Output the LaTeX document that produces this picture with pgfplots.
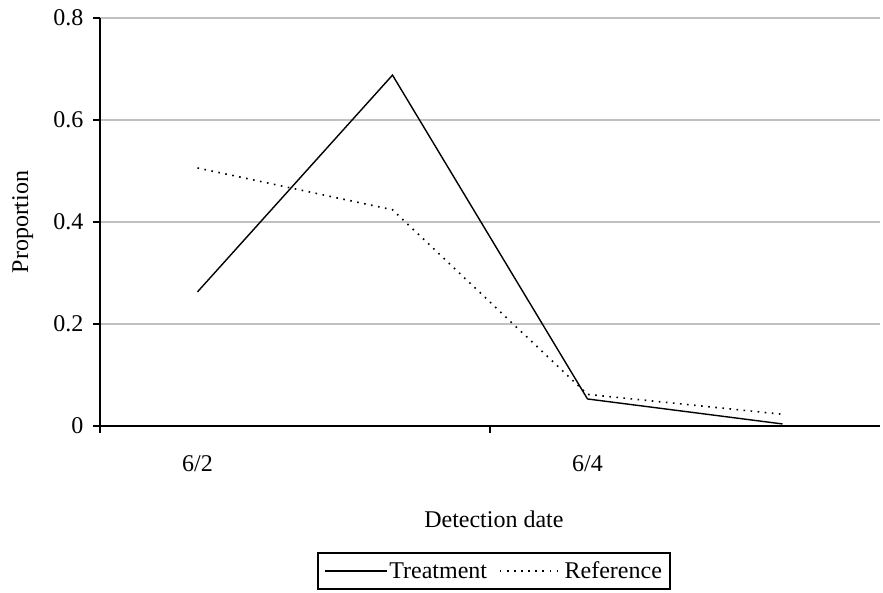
\documentclass[border=0pt]{standalone}
\usepackage{fontspec}
\setmainfont{Liberation Serif}
\usepackage{pgfplots}
\pgfplotsset{compat=1.18}
\definecolor{gridgray}{RGB}{192,192,192}
\newcommand{\chartfont}{\fontsize{24}{28}\selectfont}
\begin{document}
\begin{tikzpicture}
\begin{axis}[
  scale only axis,
  width=780pt, height=408pt,
  xmin=-0.5, xmax=3.5,
  ymin=0, ymax=0.8,
  axis x line*=bottom,
  axis y line*=left,
  axis line style={line width=1.5pt, black, -},
  xtick={-0.5,1.5},
  xticklabels={},
  extra x ticks={0,2},
  extra x tick labels={6/2,6/4},
  extra x tick style={major tick length=0pt, grid=none},
  ytick={0,0.2,0.4,0.6,0.8},
  yticklabels={0,0.2,0.4,0.6,0.8},
  tick align=outside,
  major tick length=7pt,
  tick style={line width=1.5pt, black},
  ymajorgrids,
  grid style={line width=1.5pt, gridgray},
  every tick label/.append style={font=\chartfont},
  /pgf/number format/assume math mode=true,
  xticklabel style={yshift=-26pt},
  yticklabel style={xshift=-6pt},
  every axis x label/.style={at={(axis description cs:0.505,0)}, anchor=center, yshift=-93pt, font=\chartfont},
  every axis y label/.style={at={(axis description cs:-0.099,0.5)}, anchor=center, rotate=90, font=\chartfont},
  xlabel={Detection date},
  ylabel={Proportion},
  legend columns=2,
  legend style={at={(axis description cs:0.505,-0.309)}, anchor=north, draw=black, line width=1.5pt, font=\chartfont, inner xsep=6pt, inner ysep=7pt, /tikz/every even column/.append style={column sep=10pt}},
  legend image code/.code={\draw[#1] (0pt,0pt) -- (62pt,0pt);},
  clip=false,
]
\addplot[black, line width=1.4pt] coordinates {(0,0.263) (1,0.688) (2,0.053) (3,0.004)};
\addlegendentry{Treatment}
\addplot[black, line width=1.6pt, dash pattern=on 1.6pt off 5.5pt] coordinates {(0,0.506) (1,0.424) (2,0.062) (3,0.023)};
\addlegendentry{Reference}
\end{axis}
\path[use as bounding box] (-100pt,-167pt) rectangle (783pt,426pt);
\end{tikzpicture}
\end{document}
